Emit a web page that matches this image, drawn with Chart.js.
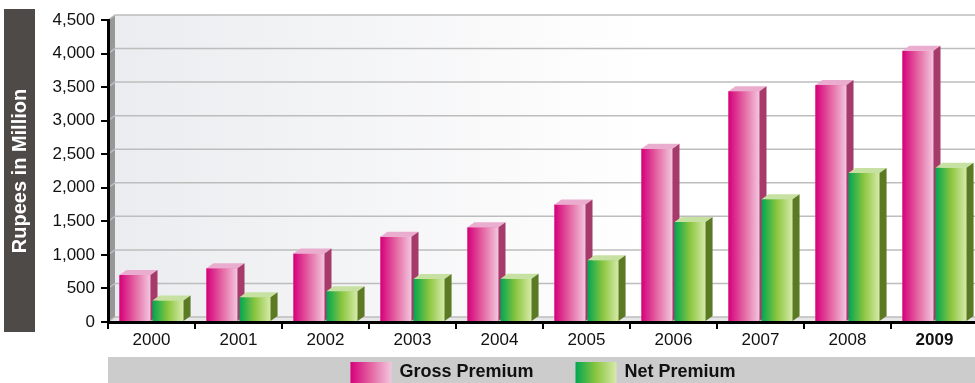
<!DOCTYPE html>
<html>
<head>
<meta charset="utf-8">
<script src="https://cdn.jsdelivr.net/npm/chart.js@4.4.1/dist/chart.umd.min.js"></script>
<style>
  html, body { margin: 0; padding: 0; overflow: hidden; background: #fff; }
  #wrap { width: 975px; height: 383px; overflow: hidden; }
  canvas { display: block; }
</style>
</head>
<body>
<div id="wrap"><canvas id="premiumChart" width="978" height="383"></canvas></div>
<script>
// Dados do gráfico
const years = ['2000', '2001', '2002', '2003', '2004', '2005', '2006', '2007', '2008', '2009'];
const grossPremium = [700, 800, 1020, 1270, 1410, 1750, 2580, 3440, 3530, 4040];
const netPremium = [320, 370, 460, 640, 645, 920, 1490, 1830, 2220, 2300];
const yTicks = [0, 500, 1000, 1500, 2000, 2500, 3000, 3500, 4000, 4500];

const FONT = 'Arial, "Liberation Sans", sans-serif';
const depth = { x: 7, y: 5 };
const legendHeight = 26;

// Estilos das barras (frente em degradê, topo e lateral)
const barStyles = [
    { front: [[0, '#d5007a'], [0.5, '#e466a3'], [1, '#f3c7de']], top: '#eaadcf', side: '#a63a6b' },
    { front: [[0, '#00a651'], [0.5, '#8cc63f'], [1, '#d7eaab']], top: '#c6e1a2', side: '#5b7a23' }
];

function poly(ctx, pts) {
    ctx.beginPath();
    ctx.moveTo(pts[0][0], pts[0][1]);
    for (let i = 1; i < pts.length; i++) ctx.lineTo(pts[i][0], pts[i][1]);
    ctx.closePath();
    ctx.fill();
}

// Fundo 3D: parede, piso, grade e caixa do título
const wallPlugin = {
    id: 'wall3d',
    beforeDraw(chart) {
        const { ctx, chartArea: a } = chart;
        const yScale = chart.scales.y;
        const dx = depth.x, dy = depth.y;
        ctx.save();

        ctx.fillStyle = '#4e4a47';
        ctx.fillRect(4, a.top - 11, 31, a.bottom - a.top + 21);

        const g = ctx.createLinearGradient(a.left, 0, a.right, 0);
        g.addColorStop(0, '#ebecef');
        g.addColorStop(0.62, '#ffffff');
        ctx.fillStyle = g;
        ctx.fillRect(a.left + dx, a.top - dy, a.right - a.left - dx, a.bottom - a.top);

        ctx.fillStyle = '#e6e6e6';
        poly(ctx, [[a.left, a.bottom], [a.left + dx, a.bottom - dy], [a.right, a.bottom - dy], [a.right, a.bottom]]);

        ctx.fillStyle = '#979797';
        poly(ctx, [[a.left, a.top], [a.left + dx, a.top - dy], [a.left + dx, a.bottom - dy], [a.left, a.bottom]]);

        ctx.strokeStyle = '#bdbdbd';
        ctx.lineWidth = 1.5;
        yScale.ticks.forEach(t => {
            const py = yScale.getPixelForValue(t.value);
            ctx.beginPath();
            ctx.moveTo(a.left, py);
            ctx.lineTo(a.left + dx, py - dy);
            ctx.lineTo(a.right, py - dy);
            ctx.stroke();
        });
        ctx.restore();
    },
    afterDatasetsDraw(chart) {
        const { ctx } = chart;
        const dx = depth.x, dy = depth.y;
        const metas = chart.data.datasets.map((d, i) => chart.getDatasetMeta(i));
        ctx.save();
        for (let i = 0; i < years.length; i++) {
            metas.forEach((meta, di) => {
                const bar = meta.data[i];
                const { x, y, base, width } = bar.getProps(['x', 'y', 'base', 'width'], true);
                const l = x - width / 2, r = x + width / 2;
                const st = barStyles[di];
                const g = ctx.createLinearGradient(l, 0, r, 0);
                st.front.forEach(([o, c]) => g.addColorStop(o, c));
                ctx.fillStyle = g;
                ctx.fillRect(l, y, width, base - y);
                ctx.fillStyle = st.top;
                poly(ctx, [[l, y], [l + dx, y - dy], [r + dx, y - dy], [r, y]]);
                ctx.fillStyle = st.side;
                poly(ctx, [[r, y], [r + dx, y - dy], [r + dx, base - dy], [r, base]]);
            });
        }
        ctx.restore();
    }
};

// Legenda em faixa cinza
const legendPlugin = {
    id: 'bottomLegend',
    afterDraw(chart) {
        const { ctx, chartArea: a } = chart;
        const top = chart.height - legendHeight;
        ctx.save();
        ctx.fillStyle = '#cccccc';
        ctx.fillRect(a.left, top, chart.width - a.left, legendHeight);
        ctx.font = 'bold 18px ' + FONT;
        const gap = 42;
        const items = chart.data.datasets.map((d, i) => ({
            label: d.label,
            w: 49 + ctx.measureText(d.label).width,
            st: barStyles[i]
        }));
        const total = items.reduce((s, it) => s + it.w, 0) + gap * (items.length - 1);
        let x = (a.left + a.right) / 2 - total / 2;
        items.forEach(it => {
            const g = ctx.createLinearGradient(x, 0, x + 41, 0);
            it.st.front.forEach(([o, c]) => g.addColorStop(o, c));
            ctx.fillStyle = g;
            ctx.fillRect(x, top + 5, 41, 22);
            ctx.fillStyle = '#111';
            ctx.textBaseline = 'middle';
            ctx.textAlign = 'left';
            ctx.fillText(it.label, x + 49, top + 15.5);
            x += it.w + gap;
        });
        ctx.restore();
    }
};

const ctx = document.getElementById('premiumChart').getContext('2d');

new Chart(ctx, {
    type: 'bar',
    data: {
        labels: years,
        datasets: [
            { label: 'Gross Premium', data: grossPremium, backgroundColor: '#e466a3' },
            { label: 'Net Premium', data: netPremium, backgroundColor: '#8cc63f' }
        ]
    },
    options: {
        responsive: false,
        animation: false,
        categoryPercentage: 0.76,
        barPercentage: 0.94,
        layout: { padding: { top: 20, right: 0, bottom: legendHeight, left: 0 } },
        plugins: {
            legend: { display: false },
            tooltip: { enabled: false }
        },
        scales: {
            x: {
                z: 1,
                afterFit: s => { s.height = 35; },
                grid: { display: true, drawOnChartArea: false, offset: true, tickLength: 7, color: '#000', lineWidth: 2 },
                border: { display: true, color: '#000', width: 3 },
                ticks: {
                    color: '#111',
                    padding: 1,
                    font: c => ({ family: FONT, size: 17, weight: c.index === years.length - 1 ? 'bold' : 'normal' })
                }
            },
            y: {
                min: 0,
                max: 4500,
                afterFit: s => { s.width = 108; },
                afterBuildTicks: s => { s.ticks = yTicks.map(v => ({ value: v })); },
                grid: { display: true, drawOnChartArea: false, tickLength: 7, color: '#000', lineWidth: 2 },
                border: { display: true, color: '#000', width: 3 },
                ticks: {
                    color: '#111',
                    padding: 6,
                    font: { family: FONT, size: 17 },
                    callback: v => v.toLocaleString('en-US')
                },
                title: {
                    display: true,
                    text: 'Rupees in Million',
                    color: '#ffffff',
                    font: { family: FONT, size: 20, weight: 'bold' },
                    padding: { top: 8, bottom: 0 }
                }
            }
        }
    },
    plugins: [wallPlugin, legendPlugin]
});
</script>
</body>
</html>
